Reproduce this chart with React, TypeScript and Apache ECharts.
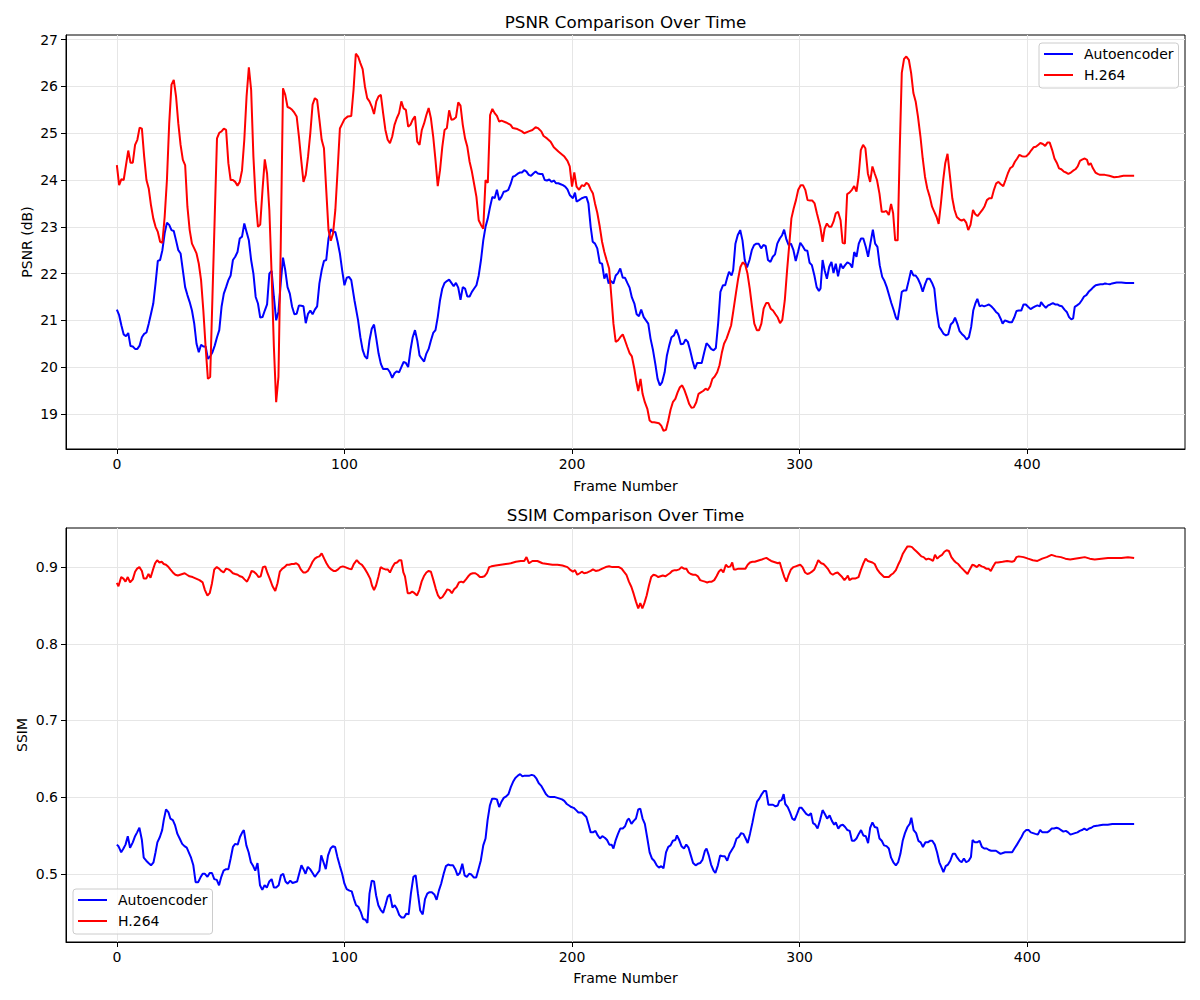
import React, { useEffect, useRef } from "react";
import * as echarts from "echarts";

// Frame ticks and y ticks
const frameTicks = [0, 100, 200, 300, 400];
const psnrTicks = [19, 20, 21, 22, 23, 24, 25, 26, 27];
const ssimTicks = [0.5, 0.6, 0.7, 0.8, 0.9];
const seriesNames = ["Autoencoder", "H.264"];

// PSNR (dB) per frame: [frame, value]
const psnrAutoencoder: [number, number][] = [
  [0,21.23],[1,21.11],[2,20.89],[3,20.7],[4,20.66],[5,20.73],[6,20.45],[7,20.44],[8,20.39],[9,20.39],[10,20.46],[11,20.64],[12,20.71],[13,20.74],[14,20.93],[15,21.14],[16,21.36],[17,21.79],[18,22.27],[19,22.29],[20,22.5],[21,22.86],[22,23.09],[23,23.04],[24,22.93],[25,22.91],[26,22.71],[27,22.5],[28,22.43],[29,22.07],[30,21.71],[31,21.54],[32,21.39],[33,21.21],[34,20.93],[35,20.5],[36,20.32],[37,20.48],[38,20.44],[39,20.44],[40,20.18],[41,20.23],[42,20.32],[43,20.46],[44,20.64],[45,20.79],[46,21.29],[47,21.57],[48,21.71],[49,21.86],[50,21.96],[51,22.29],[52,22.36],[53,22.46],[54,22.75],[55,22.79],[56,23.07],[57,22.89],[58,22.71],[59,22.29],[60,22.0],[61,21.5],[62,21.36],[63,21.06],[64,21.07],[65,21.21],[66,21.34],[67,22.0],[68,22.06],[69,21.5],[70,21.0],[71,21.18],[72,21.79],[73,22.34],[74,22.07],[75,21.71],[76,21.57],[77,21.29],[78,21.13],[79,21.14],[80,21.32],[81,21.31],[82,21.3],[83,20.94],[84,21.14],[85,21.21],[86,21.13],[87,21.23],[88,21.3],[89,21.79],[90,22.07],[91,22.27],[92,22.29],[93,22.75],[94,22.95],[95,22.89],[96,22.89],[97,22.68],[98,22.43],[99,22.07],[100,21.75],
  [101,21.91],[102,21.93],[103,21.86],[104.4,21.43],[106,21.0],[107,20.64],[108,20.37],[109,20.23],[110,20.18],[111,20.57],[112,20.82],[113,20.91],[114,20.61],[115,20.29],[116,20.07],[117,19.96],[119,19.96],[120,19.89],[121,19.77],[122,19.87],[123,19.91],[124,19.89],[125,20.0],[126,20.11],[127,20.09],[128,20.0],[129,20.36],[130,20.64],[131,20.79],[132,20.57],[133,20.25],[134,20.18],[135,20.12],[136,20.29],[137,20.39],[138,20.57],[139,20.73],[140,20.79],[141,21.07],[142,21.43],[143,21.68],[144,21.8],[145,21.84],[146,21.87],[147,21.8],[148,21.73],[149,21.8],[150,21.7],[151,21.44],[152,21.71],[153,21.68],[154,21.51],[155,21.51],[156,21.61],[157,21.68],[158,21.75],[159,21.96],[160,22.29],[161,22.71],[162,23.0],[163,23.18],[164,23.43],[165,23.64],[166,23.61],[167,23.79],[168,23.57],[169,23.64],[170,23.75],[171,23.76],[172,23.79],[173,23.91],[174,24.07],[175,24.09],[176,24.13],[177,24.16],[178,24.16],[179,24.21],[180,24.18],[181,24.11],[182,24.09],[183,24.14],[184,24.18],[185,24.14],[186,24.13],[187,24.13],[188,24.0],[189,23.99],[190,24.01],[191,23.96],[192,23.99],[193,23.93],[194,23.93],[195,23.91],[196,23.89],[197,23.86],[198,23.8],[199,23.68],[200.4,23.61],[201.3,23.73],[202,23.54],
  [203.1,23.57],[204.3,23.61],[205.3,23.63],[206.3,23.64],[207.2,23.5],[208.2,23.0],[209.1,22.68],[210.1,22.64],[211.1,22.54],[212.2,22.23],[213.2,22.21],[214.2,21.89],[215.1,22.0],[216.1,21.79],[217.1,21.84],[218.2,21.79],[219.2,21.96],[220.2,22.01],[221.2,22.11],[222.3,21.91],[223.3,21.91],[224.3,21.8],[225.3,21.7],[226.3,21.49],[227.4,21.36],[228.4,21.13],[229.4,21.09],[230.4,21.23],[231.5,21.07],[232.5,21.0],[233.5,20.93],[234.5,20.61],[235.6,20.36],[236.6,20.07],[237.6,19.75],[238.6,19.61],[239.6,19.68],[240.7,19.89],[241.7,20.25],[242.7,20.46],[243.7,20.64],[244.8,20.68],[245.8,20.8],[246.8,20.68],[247.8,20.49],[248.9,20.5],[249.9,20.59],[250.9,20.54],[251.9,20.36],[253,20.13],[254,19.96],[255,20.09],[256,20.09],[257,20.09],[258.1,20.32],[259.1,20.51],[260.1,20.46],[261.1,20.39],[262.2,20.36],[263.2,20.41],[264.2,20.93],[265.2,21.61],[266.3,21.75],[267.3,21.75],[268.3,21.93],[269,22.04],[270.1,21.96],[270.8,22.07],[271.8,22.64],[272.8,22.82],[273.9,22.93],[274.9,22.71],[275.9,22.29],[276.9,22.13],[278,22.29],[279,22.5],[280,22.61],[281,22.64],[282,22.64],[283.1,22.54],[284.1,22.61],[285.1,22.59],[286.1,22.29],[287.2,22.25],[288.2,22.36],[289.2,22.41],[290.2,22.64],[291.3,22.75],[292.3,22.82],[293.2,22.94],[294.2,22.73],[295.2,22.61],[296.2,22.64],[297.3,22.5],[298.3,22.27],[299.3,22.46],[300.3,22.66],[301.3,22.59],[302.4,22.5],[303.4,22.49],[304.4,22.23],[305.4,22.18],[306.5,21.96],[307.5,21.71],[308.5,21.63],
  [309.2,21.68],[310.1,22.29],[311,22.07],[312,21.89],[313,22.14],[314,22.25],[314.9,22.01],[315.9,22.21],[316.9,21.94],[318,22.21],[319,22.11],[320,22.18],[321,22.24],[322.1,22.21],[323.1,22.13],[324,22.46],[325,22.36],[326,22.64],[327,22.75],[328,22.75],[329.1,22.57],[330.1,22.36],[331.1,22.64],[332.2,22.94],[333.2,22.64],[334.2,22.57],[335.2,22.18],[336.3,21.93],[337.3,21.84],[338.3,21.71],[339.3,21.54],[340.3,21.37],[341.4,21.21],[342.3,21.06],[343.1,21.01],[344,21.29],[344.9,21.61],[345.9,21.64],[346.9,21.64],[348,21.86],[349,22.07],[350,21.96],[351,21.96],[352,21.89],[353.1,21.77],[354.1,21.61],[355.1,21.77],[356.1,21.89],[357.2,21.89],[358.2,21.8],[359.2,21.68],[360.2,21.21],[361.3,20.86],[362.3,20.79],[363.3,20.71],[364.3,20.68],[365.3,20.7],[366.4,20.91],[367.4,20.96],[368.3,21.06],[369.3,20.93],[370.3,20.77],[371.3,20.71],[372.4,20.66],[373.4,20.59],[374.4,20.64],[375.4,20.86],[376.3,21.21],[377.3,21.37],[378.1,21.46],[379.1,21.3],[380.1,21.32],[381.1,21.3],[382.2,21.32],[383.2,21.34],[384.2,21.3],[385.2,21.25],[386.3,21.18],[387.3,21.14],[388.3,21.04],[389.2,20.93],[390.2,21.0],[391.2,20.98],[392.2,20.96],[393.3,20.96],[394.3,21.06],[395.3,21.2],[396.3,21.21],[397.4,21.21],[398.4,21.34],[399.4,21.34],[400.4,21.29],[401.5,21.24],[402.5,21.27],[403.5,21.3],[404.5,21.32],[405.6,21.3],[406.1,21.39],[407.2,21.32],[408.2,21.27],[409.2,21.32],[410.2,21.34],[411.3,21.37],[412.3,21.34],[413.3,21.34],[414.3,21.31],[415.3,21.3],[416.4,21.23],[417.4,21.18],[418.4,21.07],[419.4,21.02],[420.2,21.04],[420.9,21.29],[421.9,21.32],[423,21.36],[424,21.43],[425,21.51],[426,21.54],[427,21.61],[428.1,21.66],[429.1,21.71],[430.1,21.75],[431.1,21.76],[432.2,21.77],[433.2,21.77],[434.2,21.79],[435.2,21.78],[436.3,21.77],[437.3,21.79],[438.3,21.8],[439.3,21.81],[441.4,21.81],[443.4,21.8],[447,21.8]
];

const psnrH264: [number, number][] = [
  [0,24.32],[1,23.89],[2,24.02],[3,24.0],[5,24.63],[6,24.37],[7,24.37],[8,24.75],[9,24.86],[10,25.12],[11,25.1],[12,24.5],[13,24.0],[14,23.82],[15,23.46],[16,23.18],[17,23.0],[18,22.89],[19,22.68],[20,22.66],[21,23.21],[22,24.0],[23,25.21],[24,26.04],[25,26.14],[26,25.79],[27,25.21],[28,24.75],[29,24.43],[30,24.32],[31,23.43],[32,22.93],[33,22.64],[34,22.54],[35,22.43],[36,22.21],[37,21.86],[38,21.21],[39,20.43],[40,19.75],[41,19.79],[42,21.5],[43,23.21],[44,24.89],[45,25.01],[46,25.04],[47,25.1],[48,25.07],[49,24.36],[50,24.0],[51,24.0],[52,23.96],[53,23.88],[54,23.96],[55,24.21],[56,24.86],[57,25.79],[58,26.41],[59,25.93],[60,24.5],[61,23.57],[62,23.0],[63,23.05],[64,23.79],[65,24.44],[66,24.14],[67,23.36],[68,22.0],[69,20.43],[70,19.25],[71,19.79],[72,22.57],[73,25.96],[74,25.82],[75,25.56],[76,25.54],[77,25.5],[78,25.44],[79,25.36],[80,24.93],[81,24.43],[82,23.96],[83,24.11],[84,24.5],[85,25.0],[86,25.61],[87,25.75],[88,25.71],[89,25.29],[90,24.86],[91,24.68],[92,23.79],[93,22.93],[94,22.7],[95,22.86],[96,23.36],[97,24.21],[98,25.1],[99,25.2],[100,25.3],
  [101.5,25.36],[103,25.37],[104,25.93],[105,26.7],[106,26.64],[107,26.5],[108,26.37],[109,26.0],[110,25.75],[111,25.68],[112,25.57],[113,25.41],[114,25.68],[115,25.79],[116,25.82],[117,25.43],[118,25.07],[119,24.86],[120,24.79],[121,24.93],[122,25.18],[123,25.32],[124,25.43],[125,25.68],[126,25.53],[127,25.5],[128,25.14],[129,25.18],[130,25.29],[131,25.36],[132,24.82],[133,24.75],[134,25.07],[135,25.21],[136,25.39],[137,25.54],[138,25.32],[139,24.93],[140,24.43],[141,23.87],[142,24.21],[143,24.71],[144,25.07],[145,25.11],[146,25.49],[147,25.29],[148,25.3],[149,25.34],[150,25.66],[151,25.59],[152,25.18],[153,24.89],[154,24.71],[155,24.39],[156,24.18],[157,23.91],[158,23.64],[159,23.14],[160,23.04],[161,22.96],[162,24.0],[163,23.94],[164,25.39],[165,25.52],[166,25.43],[167,25.37],[168,25.25],[169,25.27],[171,25.23],[173,25.18],[174,25.11],[176,25.09],[178,25.04],[179,25.0],[181,25.04],[182.6,25.07],[184,25.13],[185,25.11],[186.5,25.04],[187.5,24.94],[189,24.89],[190.6,24.82],[192,24.7],[194,24.61],[196.5,24.51],[198,24.41],[199,24.29],[200,23.86],[201,24.16],[202,23.86],
  [203.1,23.79],[204.3,23.89],[205.3,23.87],[206.3,23.94],[207.2,23.91],[208.2,23.8],[209.2,23.71],[210.1,23.5],[211.1,23.3],[212.2,23.0],[213.2,22.68],[214.2,22.46],[215.2,22.29],[216.3,22.11],[217.3,21.5],[218.2,20.93],[219.2,20.54],[220.2,20.57],[221.2,20.64],[222.3,20.7],[223.3,20.57],[224.3,20.43],[225.3,20.3],[226.3,20.23],[227.4,19.96],[228.2,19.71],[229.1,19.49],[230.1,19.75],[231,19.43],[232,19.25],[233.1,19.11],[234.1,18.86],[235.1,18.82],[236.1,18.82],[237.2,18.81],[238.2,18.8],[239.2,18.75],[240.2,18.64],[241.3,18.66],[242.3,18.86],[243.3,19.09],[244.3,19.25],[245.4,19.32],[246.4,19.46],[247.4,19.57],[248.4,19.61],[249.4,19.51],[250.5,19.36],[251.5,19.21],[252.5,19.13],[253.5,19.14],[254.6,19.25],[255.6,19.43],[256.6,19.46],[257.6,19.49],[258.7,19.54],[259.7,19.51],[260.7,19.59],[261.7,19.75],[262.7,19.8],[263.8,19.89],[264.8,20.04],[265.8,20.3],[266.8,20.5],[267.9,20.61],[268.9,20.75],[269.9,20.89],[270.9,21.21],[272,21.57],[273,21.89],[274,22.14],[275,22.24],[276.1,22.19],[277.1,22.0],[278.1,21.68],[279.1,21.29],[280.1,20.93],[281.2,20.79],[282.2,20.79],[283.2,20.93],[284.2,21.25],[285.3,21.37],[286.3,21.37],[287.3,21.25],[288.3,21.21],[289.4,21.13],[290.4,21.06],[291.4,20.94],[292.4,21.01],[293.5,21.43],[294.5,22.07],[295.5,22.64],[296.4,23.18],[297.4,23.39],[298.4,23.57],[299.4,23.79],[300.5,23.89],[301.5,23.89],[302.5,23.79],[303.5,23.57],[304.6,23.56],[305.6,23.56],[306.6,23.5],[307.6,23.29],
  [309.1,23.0],[310.1,22.68],[311,22.96],[312,23.07],[313,23.0],[313.9,23.0],[314.9,23.11],[315.9,23.29],[316.9,23.32],[318,23.14],[318.9,22.66],[319.9,22.64],[320.9,23.7],[321.9,23.73],[323,23.79],[324,23.87],[325,23.75],[325.9,24.07],[326.9,24.64],[327.9,24.75],[328.9,24.68],[330,24.14],[331,23.96],[332,24.29],[333,24.14],[334,24.0],[335.1,23.71],[336.1,23.32],[337.1,23.32],[338.1,23.34],[339.2,23.25],[340.2,23.49],[341.1,23.29],[342,22.71],[343.1,22.71],[344,24.64],[344.9,26.29],[345.9,26.59],[346.9,26.64],[348,26.57],[349,26.29],[350,25.86],[351,25.68],[352,25.36],[353.1,24.93],[354.1,24.46],[355.1,24.07],[356.1,23.82],[357.2,23.64],[358.2,23.43],[359.2,23.32],[360.2,23.21],[361.1,23.06],[362.1,23.5],[363.1,24.0],[364,24.36],[365,24.56],[366.1,24.07],[367.1,23.61],[368.1,23.36],[369.1,23.21],[370.2,23.16],[371.2,23.13],[372.2,23.16],[373.2,23.09],[374.1,22.93],[375.1,23.04],[376.2,23.36],[377.2,23.27],[378.2,23.23],[379.2,23.29],[380.3,23.36],[381.3,23.44],[382.3,23.57],[383.3,23.61],[384.4,23.61],[385.4,23.79],[386.4,23.93],[387.4,23.96],[388.4,23.91],[389.5,23.87],[390.5,24.0],[391.5,24.14],[392.5,24.25],[393.6,24.29],[394.6,24.39],[395.6,24.46],[396.6,24.54],[397.7,24.51],[398.7,24.5],[399.7,24.51],[400.7,24.56],[401.7,24.63],[402.8,24.7],[403.8,24.71],[404.8,24.75],[405.8,24.79],[406.9,24.77],[407.9,24.73],[408.9,24.8],[409.9,24.8],[411,24.64],[412,24.46],[413,24.37],[414,24.25],[415,24.23],[416.1,24.18],[417.1,24.16],[418.1,24.13],[419.2,24.16],[420.2,24.2],[421.2,24.23],[422.2,24.29],[423.2,24.41],[424.3,24.44],[425.3,24.46],[426.3,24.43],[427,24.32],[427.9,24.36],[428.9,24.25],[430,24.16],[431,24.13],[432,24.11],[434.1,24.11],[436.1,24.09],[438.2,24.06],[440.2,24.07],[442.3,24.09],[444.3,24.09],[447,24.09]
];

// SSIM per frame: [frame, value]
const ssimAutoencoder: [number, number][] = [
  [0,0.538],[0.7,0.536],[1.9,0.528],[2.9,0.533],[3.8,0.538],[4.8,0.549],[5.8,0.534],[7,0.541],[8,0.549],[8.9,0.554],[9.9,0.56],[11,0.544],[11.8,0.521],[12.9,0.517],[13.9,0.514],[15,0.511],[16.1,0.515],[17,0.528],[17.8,0.541],[18.9,0.548],[19.9,0.557],[20.6,0.57],[21.6,0.584],[22.7,0.58],[23.5,0.572],[24.6,0.57],[25.6,0.563],[26.6,0.552],[27.6,0.546],[28.7,0.539],[29.7,0.536],[30.7,0.534],[31.6,0.528],[32.6,0.521],[33.6,0.511],[34.6,0.489],[35.7,0.489],[36.7,0.495],[37.7,0.5],[38.7,0.5],[39.8,0.496],[40.8,0.501],[41.8,0.501],[42.8,0.493],[43.9,0.492],[44.9,0.485],[45.9,0.496],[46.9,0.504],[48,0.506],[49,0.506],[50,0.52],[51,0.535],[52,0.539],[53.1,0.538],[54.1,0.548],[55.1,0.554],[55.8,0.557],[56.9,0.537],[57.9,0.528],[58.9,0.515],[59.9,0.51],[60.8,0.504],[61.8,0.514],[62.9,0.485],[63.9,0.479],[64.9,0.485],[65.9,0.482],[67,0.49],[68,0.493],[69,0.482],[70,0.482],[71.1,0.485],[72.1,0.498],[73.1,0.5],[74.1,0.49],[75.1,0.487],[76.2,0.491],[77.2,0.488],[78.2,0.489],[79.2,0.49],[80.1,0.5],[81.1,0.511],[82,0.506],[82.9,0.5],[83.9,0.509],[84.9,0.506],[86,0.501],[87,0.496],[88,0.5],[89,0.504],[89.8,0.524],[90.8,0.515],[91.8,0.506],[92.8,0.524],[93.9,0.533],[94.9,0.536],[95.9,0.535],[96.9,0.522],[98,0.51],[99,0.5],[100,0.487],
  [101,0.48],[102.2,0.478],[103.2,0.477],[104.2,0.467],[105.1,0.459],[106.1,0.457],[107.2,0.45],[108.2,0.441],[109.2,0.44],[110.1,0.436],[111,0.474],[112,0.491],[113,0.49],[113.9,0.472],[114.9,0.459],[115.9,0.453],[117,0.449],[118,0.459],[119,0.47],[120,0.473],[121.1,0.456],[122.1,0.459],[123.1,0.454],[124.1,0.446],[125.1,0.443],[126.2,0.443],[127.2,0.448],[128.2,0.447],[129.2,0.474],[130.3,0.496],[131.3,0.498],[132.3,0.474],[133.3,0.452],[134.4,0.447],[135.4,0.467],[136.4,0.474],[137.4,0.476],[138.4,0.476],[139.5,0.473],[140.5,0.466],[141.5,0.478],[142.5,0.487],[143.6,0.5],[144.6,0.51],[145.6,0.512],[146.6,0.511],[147.7,0.511],[148.7,0.506],[149.7,0.498],[150.7,0.501],[151.8,0.513],[152.8,0.498],[153.8,0.496],[154.8,0.5],[155.8,0.499],[156.9,0.495],[157.9,0.495],[158.9,0.506],[159.9,0.517],[161,0.537],[162,0.546],[162.9,0.57],[163.9,0.589],[164.9,0.598],[165.9,0.598],[167,0.597],[168,0.587],[169,0.594],[170,0.599],[171.1,0.601],[172.1,0.604],[173.1,0.613],[174.1,0.62],[175.1,0.625],[176.2,0.628],[177.2,0.63],[178.2,0.627],[179.2,0.628],[180.3,0.628],[181.3,0.628],[182.3,0.629],[183.3,0.628],[184.4,0.624],[185.4,0.618],[186.4,0.615],[187.4,0.61],[188.5,0.604],[189.5,0.601],[190.5,0.6],[191.5,0.6],[192.5,0.6],[193.6,0.599],[194.6,0.598],[195.6,0.597],[196.6,0.595],[197.7,0.591],[198.7,0.589],[199.7,0.587],[200.7,0.586],[201.8,0.583],[202.8,0.58],
  [204.3,0.58],[205.3,0.577],[206.3,0.574],[207.2,0.565],[208.2,0.554],[209.2,0.554],[210.3,0.556],[211.3,0.55],[212.3,0.546],[213.3,0.549],[214.4,0.547],[215.4,0.544],[216.4,0.538],[217.4,0.538],[218.2,0.533],[219.2,0.544],[220.2,0.552],[221.2,0.559],[222.3,0.559],[223.3,0.562],[224.3,0.57],[225,0.572],[226.1,0.565],[227.1,0.569],[228.1,0.572],[229.1,0.584],[230,0.585],[231,0.572],[232,0.565],[233.1,0.546],[234.1,0.528],[235.1,0.52],[236.1,0.517],[237.2,0.511],[238.2,0.508],[239.2,0.51],[240.2,0.507],[241.3,0.528],[242.3,0.535],[243.3,0.537],[244.3,0.543],[245.4,0.544],[246.1,0.55],[247.1,0.544],[248.1,0.536],[249.2,0.533],[250.2,0.538],[251.2,0.534],[252.2,0.524],[253.2,0.514],[254.3,0.511],[255.3,0.513],[256.3,0.514],[257.3,0.518],[258.4,0.53],[259.1,0.533],[260.1,0.524],[261.1,0.512],[262.2,0.504],[263,0.501],[264.1,0.511],[265.1,0.524],[266.1,0.523],[267.1,0.523],[268.2,0.517],[269.2,0.526],[270.2,0.531],[271.2,0.536],[272.3,0.546],[273.3,0.548],[274.3,0.553],[275.3,0.552],[276.3,0.546],[277.2,0.54],[278.2,0.552],[279.3,0.567],[280.3,0.582],[281.3,0.594],[282.3,0.598],[283.4,0.604],[284.4,0.608],[285.3,0.608],[286.3,0.59],[287.3,0.59],[288.3,0.59],[289.4,0.588],[290.4,0.589],[291.1,0.595],[292.1,0.596],[293,0.604],[293.7,0.591],[294.8,0.587],[295.8,0.58],[296.8,0.572],[297.8,0.57],[298.9,0.578],[299.9,0.586],[300.9,0.586],[301.9,0.582],[302.9,0.578],[304,0.576],[305,0.579],[305.9,0.566],[306.9,0.564],[307.9,0.559],
  [309,0.57],[310.1,0.583],[311.1,0.578],[312.1,0.572],[313.2,0.576],[314.2,0.569],[315.2,0.564],[315.9,0.567],[317,0.559],[318,0.563],[319,0.564],[320,0.561],[321,0.557],[322,0.556],[323,0.543],[324,0.543],[325,0.546],[326,0.552],[327,0.557],[328,0.55],[329.1,0.549],[330.1,0.54],[331,0.56],[332,0.567],[333,0.561],[334.1,0.56],[335.1,0.546],[336.1,0.543],[337.1,0.537],[338.2,0.536],[339.2,0.533],[340.2,0.521],[341.2,0.515],[342.3,0.511],[343.3,0.515],[344.3,0.526],[345.3,0.543],[346.3,0.553],[347.4,0.561],[348.4,0.565],[349.1,0.573],[350.1,0.557],[351.2,0.553],[352.2,0.543],[353.2,0.541],[354.2,0.535],[355.3,0.541],[356.3,0.541],[357.3,0.543],[358.3,0.543],[359.4,0.538],[360.4,0.528],[361.4,0.515],[362.4,0.508],[363.2,0.502],[364.2,0.51],[365.2,0.512],[366.2,0.517],[367.3,0.526],[368.3,0.526],[369.3,0.521],[370.3,0.517],[371.2,0.515],[372.2,0.52],[373.2,0.515],[374.3,0.517],[375.3,0.522],[376,0.544],[377,0.541],[378,0.541],[379.1,0.543],[380.1,0.535],[381.1,0.533],[382.2,0.533],[383.2,0.531],[384.2,0.53],[385.2,0.53],[386.3,0.53],[387.3,0.528],[388.3,0.526],[389.3,0.527],[390.3,0.528],[391.4,0.528],[392.4,0.528],[393.4,0.528],[394.4,0.533],[395.5,0.538],[396.5,0.543],[397.5,0.548],[398.5,0.554],[399.6,0.557],[400.6,0.557],[401.6,0.554],[402.6,0.553],[403.6,0.552],[404.7,0.551],[405.7,0.557],[406.7,0.554],[407.7,0.554],[408.8,0.554],[409.8,0.556],[410.8,0.559],[411.8,0.559],[412.9,0.56],[413.9,0.559],[414.9,0.557],[415.9,0.555],[417,0.556],[418,0.554],[419,0.551],[420,0.552],[421,0.553],[422.1,0.554],[423.1,0.556],[424.1,0.557],[425.1,0.559],[426.2,0.557],[427.2,0.559],[428.2,0.56],[429.2,0.562],[431.3,0.563],[433.3,0.564],[435.4,0.564],[437.4,0.565],[439.4,0.565],[441.5,0.565],[443.6,0.565],[447,0.565]
];

const ssimH264: [number, number][] = [
  [0,0.8795],[0.7,0.875],[1.9,0.887],[2.9,0.885],[3.8,0.881],[4.8,0.887],[5.8,0.88],[7,0.884],[8,0.894],[8.9,0.898],[9.9,0.9],[11,0.895],[11.8,0.885],[12.9,0.885],[13.9,0.891],[14.8,0.886],[15.8,0.896],[16.8,0.905],[17.7,0.909],[18.7,0.906],[19.7,0.907],[20.6,0.904],[21.6,0.903],[22.7,0.9],[23.5,0.897],[24.6,0.893],[25.7,0.89],[26.8,0.889],[27.8,0.89],[28.8,0.891],[29.8,0.892],[30.8,0.89],[31.9,0.888],[33.3,0.887],[34.8,0.885],[36.3,0.883],[37.7,0.88],[38.7,0.87],[39.8,0.863],[40.8,0.866],[41.8,0.879],[42.8,0.897],[43.9,0.9],[44.9,0.898],[45.9,0.895],[46.9,0.893],[48,0.898],[49,0.897],[50,0.895],[51,0.892],[52,0.891],[53.1,0.89],[54.1,0.888],[55.1,0.887],[56.1,0.884],[57.2,0.881],[58.2,0.887],[59.2,0.895],[60.2,0.894],[61.3,0.891],[62.3,0.887],[63.2,0.888],[64.2,0.9],[65.2,0.901],[66.2,0.892],[67.3,0.884],[68.4,0.875],[69.6,0.869],[70.6,0.879],[71.6,0.894],[72.7,0.898],[73.7,0.9],[74.7,0.903],[75.7,0.903],[76.8,0.904],[77.8,0.904],[78.8,0.905],[79.8,0.903],[80.8,0.897],[81.9,0.893],[82.9,0.893],[83.9,0.895],[84.9,0.9],[86,0.907],[87,0.911],[88,0.913],[89,0.914],[90,0.918],[91.1,0.911],[92.1,0.905],[93.1,0.9],[94.2,0.897],[95.2,0.895],[96.2,0.895],[97.2,0.897],[98.2,0.9],[99.3,0.901],[100.3,0.9],
  [101.9,0.898],[103.1,0.897],[104.1,0.904],[105.4,0.909],[106.6,0.905],[107.7,0.903],[108.9,0.898],[110.1,0.892],[111.3,0.885],[112.1,0.876],[113,0.87],[113.9,0.876],[114.9,0.887],[115.9,0.9],[117,0.898],[118,0.897],[119,0.897],[120,0.893],[121.1,0.9],[122.1,0.905],[123.1,0.906],[124.1,0.909],[125,0.909],[125.9,0.893],[126.6,0.888],[127.8,0.866],[128.8,0.866],[129.8,0.868],[130.8,0.866],[131.9,0.863],[132.9,0.87],[133.9,0.881],[134.9,0.888],[136,0.893],[137,0.895],[138,0.894],[139,0.884],[140.1,0.872],[141.1,0.863],[142.1,0.859],[143.1,0.861],[144.2,0.866],[145.2,0.871],[146.2,0.87],[147.2,0.866],[148.2,0.871],[149.3,0.874],[150.3,0.88],[151.3,0.881],[152.3,0.88],[153.4,0.884],[154.4,0.888],[155.4,0.891],[156.4,0.892],[157.5,0.892],[158.5,0.89],[159.5,0.887],[160.5,0.887],[161.5,0.888],[162.6,0.892],[163.6,0.9],[164.6,0.901],[166.5,0.902],[168.7,0.903],[170.9,0.904],[173.1,0.905],[175.3,0.907],[177.5,0.908],[179,0.908],[180,0.913],[181.1,0.905],[182.6,0.908],[184.8,0.908],[187,0.905],[189.2,0.904],[191.4,0.903],[193.6,0.903],[195.8,0.902],[198,0.9],[199.4,0.896],[200.4,0.894],[201.3,0.896],[202.3,0.89],
  [203.4,0.892],[204.3,0.894],[205.3,0.892],[206.8,0.893],[208.2,0.895],[209.2,0.897],[210.4,0.895],[211.9,0.896],[213.3,0.898],[214.8,0.9],[216.3,0.901],[217.7,0.9],[219.2,0.9],[220.6,0.9],[221.8,0.898],[222.8,0.894],[223.9,0.89],[225,0.881],[226.1,0.874],[227.1,0.865],[228.1,0.855],[229.1,0.846],[230,0.853],[230.9,0.846],[231.8,0.853],[232.8,0.863],[233.8,0.876],[234.8,0.887],[235.8,0.89],[236.9,0.889],[237.9,0.887],[238.9,0.888],[239.9,0.889],[241,0.888],[242,0.89],[243,0.892],[244,0.895],[245.1,0.896],[246.1,0.896],[247.1,0.897],[248.1,0.9],[249.2,0.898],[250.2,0.898],[251.2,0.893],[252.2,0.891],[253.2,0.89],[254.3,0.89],[255.3,0.888],[256.3,0.883],[257.3,0.882],[258.4,0.881],[259.4,0.88],[260.4,0.881],[261.4,0.881],[262.5,0.883],[263.5,0.888],[264.5,0.894],[265.5,0.897],[266.5,0.893],[267.6,0.903],[268.6,0.9],[269.6,0.901],[270.4,0.906],[271.1,0.897],[272.1,0.897],[273.1,0.898],[274.2,0.898],[275.2,0.898],[276.2,0.898],[277.2,0.903],[278.2,0.906],[279.3,0.907],[280.3,0.907],[281.3,0.908],[282.3,0.909],[283.4,0.91],[284.4,0.911],[285.4,0.912],[286.4,0.91],[287.5,0.908],[288.5,0.907],[289.5,0.906],[290.5,0.905],[291.3,0.906],[292.3,0.896],[293.3,0.887],[294.2,0.881],[295.2,0.89],[296.2,0.897],[297.3,0.9],[298.3,0.901],[299.3,0.902],[300.3,0.903],[301.3,0.9],[302.4,0.893],[303.4,0.891],[304.4,0.892],[305.4,0.894],[306.5,0.897],[307.5,0.904],[308.2,0.909],
  [309.5,0.905],[310.5,0.904],[311.5,0.901],[312.6,0.897],[313.6,0.892],[314.6,0.89],[315.6,0.892],[316.7,0.893],[317.7,0.89],[318.7,0.887],[319.7,0.883],[320.8,0.887],[321.2,0.889],[321.9,0.883],[323,0.885],[324.4,0.885],[325.9,0.887],[326.9,0.896],[327.9,0.904],[329,0.911],[330,0.908],[331,0.907],[332,0.906],[333,0.904],[334.1,0.897],[335.1,0.893],[336.1,0.89],[337.1,0.887],[338.2,0.887],[339.2,0.887],[340.2,0.89],[341.2,0.892],[342.3,0.896],[343.3,0.903],[344.3,0.909],[345.3,0.917],[346.3,0.922],[347.4,0.927],[348.4,0.927],[349.4,0.926],[350.4,0.923],[351.5,0.92],[352.5,0.917],[353.5,0.914],[354.5,0.913],[355.6,0.91],[356.6,0.911],[357.6,0.91],[358.6,0.908],[359.5,0.916],[360.5,0.911],[361.5,0.914],[362.6,0.916],[363.6,0.92],[364.6,0.922],[365.6,0.921],[366.7,0.913],[367.7,0.909],[368.7,0.906],[369.7,0.904],[370.8,0.9],[371.8,0.897],[372.8,0.894],[373.8,0.891],[374.8,0.897],[375.9,0.903],[376.9,0.902],[377.9,0.9],[378.9,0.903],[380,0.901],[381,0.9],[382,0.898],[383,0.898],[384,0.895],[385.1,0.901],[386.1,0.906],[387.1,0.906],[389.2,0.907],[391.2,0.908],[393.3,0.907],[394.3,0.908],[395.3,0.913],[396.3,0.914],[398.4,0.913],[400.4,0.911],[402.5,0.909],[404.5,0.908],[406.6,0.911],[408.6,0.913],[410.7,0.916],[412.7,0.914],[414.8,0.913],[416.8,0.911],[418.9,0.91],[420.9,0.911],[423,0.912],[425.3,0.913],[427.5,0.911],[429.7,0.91],[432.6,0.911],[435.5,0.912],[438.4,0.912],[441.4,0.912],[444.3,0.913],[447,0.912]
];

const FONT = "DejaVu Sans";
const BLUE = "#0000ff";
const RED = "#ff0000";
const GRID_COLOR = "#e6e6e6";
const LEGEND_LINE_ICON = "path://M0,0 L29,0 L29,2 L0,2 Z";

function xAxisDef(gridIndex: number) {
  return {
    type: "value",
    gridIndex,
    min: -22.35,
    max: 469.35,
    axisLine: { show: true, onZero: false, lineStyle: { color: "#000", width: 1 } },
    axisTick: { show: true, length: 5, customValues: frameTicks, lineStyle: { color: "#000", width: 1 } },
    axisLabel: { customValues: frameTicks, color: "#000", fontSize: 14, fontFamily: FONT, margin: 8 },
    splitLine: { show: true, lineStyle: { color: GRID_COLOR, width: 1 } },
  };
}

function yAxisDef(gridIndex: number, min: number, max: number, ticks: number[], fmt: (v: number) => string) {
  return {
    type: "value",
    gridIndex,
    min,
    max,
    axisLine: { show: true, onZero: false, lineStyle: { color: "#000", width: 1 } },
    axisTick: { show: true, length: 5, customValues: ticks, lineStyle: { color: "#000", width: 1 } },
    axisLabel: { customValues: ticks, color: "#000", fontSize: 14, fontFamily: FONT, margin: 8, formatter: fmt },
    splitLine: { show: true, lineStyle: { color: GRID_COLOR, width: 1 } },
  };
}

function legendDef(left: number, top: number) {
  return {
    orient: "vertical",
    left,
    top,
    data: [
      { name: seriesNames[0], icon: LEGEND_LINE_ICON, itemStyle: { color: BLUE } },
      { name: seriesNames[1], icon: LEGEND_LINE_ICON, itemStyle: { color: RED } },
    ],
    symbolKeepAspect: true,
    itemWidth: 29,
    itemHeight: 14,
    itemGap: 7,
    padding: [4, 5, 6, 5],
    backgroundColor: "rgba(255,255,255,0.8)",
    borderColor: "#cccccc",
    borderWidth: 1,
    borderRadius: 3,
    selectedMode: false,
    textStyle: { color: "#000", fontSize: 14, fontFamily: FONT, padding: [0, 0, 0, 6], lineHeight: 14 },
  };
}

function lineSeries(name: string, color: string, data: [number, number][], idx: number) {
  return {
    type: "line",
    name,
    xAxisIndex: idx,
    yAxisIndex: idx,
    data,
    symbol: "none",
    showSymbol: false,
    lineStyle: { color, width: 2 },
    itemStyle: { color },
    z: 3,
  };
}

export default function App() {
  const ref = useRef<HTMLDivElement>(null);
  useEffect(() => {
    if (!ref.current) return;
    const chart = echarts.init(ref.current, null, { renderer: "svg" });
    chart.setOption({
      animation: false,
      backgroundColor: "#ffffff",
      textStyle: { fontFamily: FONT },
      grid: [
        { left: 66, top: 35, width: 1119, height: 414, show: true, borderColor: "#000", borderWidth: 1, backgroundColor: "transparent" },
        { left: 66, top: 528, width: 1119, height: 414, show: true, borderColor: "#000", borderWidth: 1, backgroundColor: "transparent" },
      ],
      xAxis: [xAxisDef(0), xAxisDef(1)],
      yAxis: [
        yAxisDef(0, 18.25, 27.1, psnrTicks, (v: number) => String(v)),
        yAxisDef(1, 0.411, 0.951, ssimTicks, (v: number) => v.toFixed(1)),
      ],
      legend: [legendDef(1039, 43), legendDef(73, 889)],
      graphic: [
        { type: "text", x: 625.5, y: 21.5, style: { text: "PSNR Comparison Over Time", fontSize: 16.7, fontFamily: FONT, fill: "#000", align: "center", verticalAlign: "middle" } },
        { type: "text", x: 625.5, y: 514.5, style: { text: "SSIM Comparison Over Time", fontSize: 16.7, fontFamily: FONT, fill: "#000", align: "center", verticalAlign: "middle" } },
        { type: "text", x: 625.5, y: 485.5, style: { text: "Frame Number", fontSize: 14, fontFamily: FONT, fill: "#000", align: "center", verticalAlign: "middle" } },
        { type: "text", x: 625.5, y: 977.5, style: { text: "Frame Number", fontSize: 14, fontFamily: FONT, fill: "#000", align: "center", verticalAlign: "middle" } },
        { type: "text", x: 27, y: 242, rotation: Math.PI / 2, style: { text: "PSNR (dB)", fontSize: 14, fontFamily: FONT, fill: "#000", align: "center", verticalAlign: "middle" } },
        { type: "text", x: 22, y: 735, rotation: Math.PI / 2, style: { text: "SSIM", fontSize: 14, fontFamily: FONT, fill: "#000", align: "center", verticalAlign: "middle" } },
      ],
      series: [
        lineSeries(seriesNames[0], BLUE, psnrAutoencoder, 0),
        lineSeries(seriesNames[1], RED, psnrH264, 0),
        lineSeries(seriesNames[0], BLUE, ssimAutoencoder, 1),
        lineSeries(seriesNames[1], RED, ssimH264, 1),
      ],
    });
    return () => chart.dispose();
  }, []);
  return (
    <div
      ref={ref}
      style={{ position: "fixed", left: 0, top: 0, width: 1200, height: 1000, background: "#fff" }}
    />
  );
}
